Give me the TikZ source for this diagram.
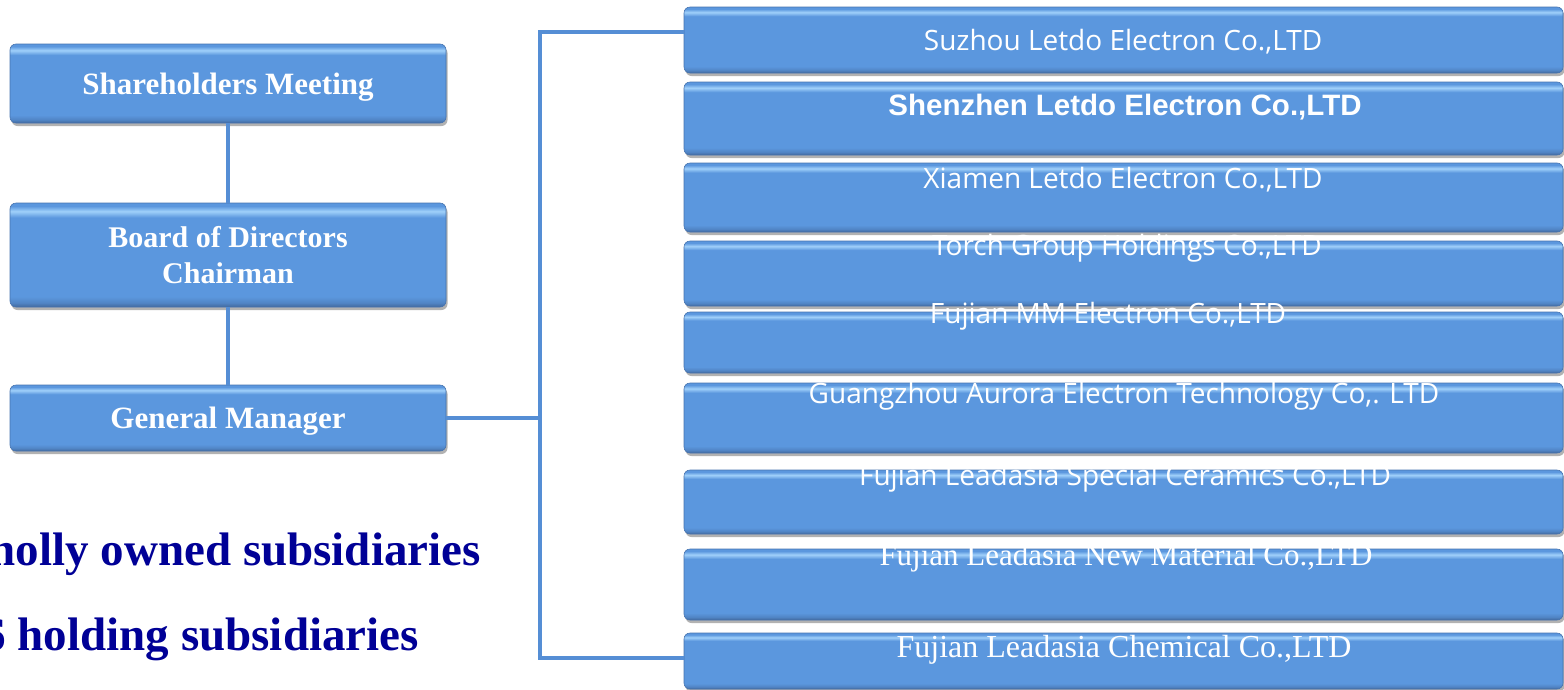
\documentclass[tikz,border=0pt]{standalone}
\usepackage{fontspec}
\setmainfont{Liberation Serif}
\newfontfamily\opfont{Open Sans}
\newfontfamily\arifont{Liberation Sans}
\usepackage{xcolor}
\usetikzlibrary{shadows,positioning,calc}

\definecolor{boxblue}{RGB}{91,151,222}
\definecolor{boxlight}{RGB}{160,208,250}
\definecolor{boxmid}{RGB}{80,132,196}
\definecolor{boxdark}{RGB}{66,104,156}
\definecolor{boxedge}{RGB}{70,115,175}
\definecolor{linkblue}{RGB}{85,142,213}
\definecolor{navytext}{RGB}{0,0,150}

\pgfdeclareverticalshading{glossy}{100bp}{color(0bp)=(boxdark); color(25bp)=(boxdark); color(27bp)=(boxmid); color(30bp)=(boxblue); color(68bp)=(boxblue); color(71bp)=(boxlight); color(73.5bp)=(boxblue); color(100bp)=(boxblue)}

\tikzset{
  orgbox/.style={rectangle, rounded corners=6pt, shade, shading=glossy, draw=boxedge, line width=0.6pt,
    drop shadow={shadow xshift=1.5pt, shadow yshift=-3pt, opacity=0.3, fill=black}, text=white, inner sep=0pt},
  headbox/.style={orgbox, minimum width=436pt, align=center, font=\fontsize{31}{36}\selectfont\bfseries},
  subbox/.style={orgbox, minimum width=879pt},
  subtext/.style={anchor=base, text=white, inner sep=0pt},
  conn/.style={draw=linkblue, line width=4.5pt},
  note/.style={anchor=base east, text=navytext, font=\fontsize{47}{50}\selectfont\bfseries, inner sep=0pt}
}

\begin{document}
\begin{tikzpicture}[x=1pt,y=-1pt]
  \useasboundingbox (0,0) rectangle (1564,689);
  \clip (0,0) rectangle (1564,689);

  % Left column
  \node[headbox, minimum height=79pt, text depth=0pt] (sm) at (228,83.5) {Shareholders Meeting};
  \node[headbox, minimum height=104pt, font=\fontsize{30}{36}\selectfont\bfseries] (bd) at (228,255) {Board of Directors\\Chairman};
  \node[headbox, minimum height=66pt, text depth=0pt] (gm) at (228,418) {General Manager};

  % Subsidiaries
  \node[subbox, minimum height=66pt] (c1) at (1123.5,40) {};
  \node[subbox, minimum height=73pt] (c2) at (1123.5,118.5) {};
  \node[subbox, minimum height=69pt] (c3) at (1123.5,197.5) {};
  \node[subbox, minimum height=65pt] (c4) at (1123.5,273.5) {};
  \node[subbox, minimum height=61pt] (c5) at (1123.5,342.5) {};
  \node[subbox, minimum height=70pt] (c6) at (1123.5,418) {};
  \node[subbox, minimum height=64pt] (c7) at (1123.5,502) {};
  \node[subbox, minimum height=71pt] (c8) at (1123.5,584.5) {};
  \node[subbox, minimum height=56pt] (c9) at (1123.5,661) {};

  % Connectors
  \coordinate (bustop) at (540,32);
  \coordinate (busbot) at (540,658);
  \draw[conn] (sm) -- (bd);
  \draw[conn] (bd) -- (gm);
  \draw[conn] (gm.east) -- (gm.east -| bustop);
  \draw[conn] (c1.west |- bustop) -- (bustop) -- (busbot) -- (c9.west |- busbot);

  % Company names
  \node[subtext, font=\opfont\fontsize{28}{30}\selectfont] (n1) at (1123,50) {Suzhou Letdo Electron Co.,LTD};
  \node[subtext, font=\arifont\bfseries\fontsize{29.5}{30}\selectfont] (n2) at (1125,115) {Shenzhen Letdo Electron Co.,LTD};
  \node[subtext, font=\opfont\fontsize{28}{30}\selectfont] (n3) at (1123,188) {Xiamen Letdo Electron Co.,LTD};
  \node[subtext, font=\opfont\fontsize{28}{30}\selectfont] (n4) at (1127,255) {Torch Group Holdings Co.,LTD};
  \node[subtext, font=\opfont\fontsize{28}{30}\selectfont] (n5) at (1108,323) {Fujian MM Electron Co.,LTD};
  \node[subtext, font=\opfont\fontsize{28}{30}\selectfont] (n6) at (1124,403) {Guangzhou Aurora Electron Technology Co,. LTD};
  \node[subtext, font=\opfont\fontsize{28}{30}\selectfont] (n7) at (1125,485) {Fujian Leadasia Special Ceramics Co.,LTD};
  \node[subtext, font=\fontsize{31}{30}\selectfont] (n8) at (1126,565) {Fujian Leadasia New Material Co.,LTD};
  \node[subtext, font=\fontsize{32}{30}\selectfont] (n9) at (1124,657) {Fujian Leadasia Chemical Co.,LTD};

  % Notes
  \node[note] (wo) at (481,565) {wholly owned subsidiaries};
  \node[note] (ho) at (419,650) {6 holding subsidiaries};
\end{tikzpicture}
\end{document}
